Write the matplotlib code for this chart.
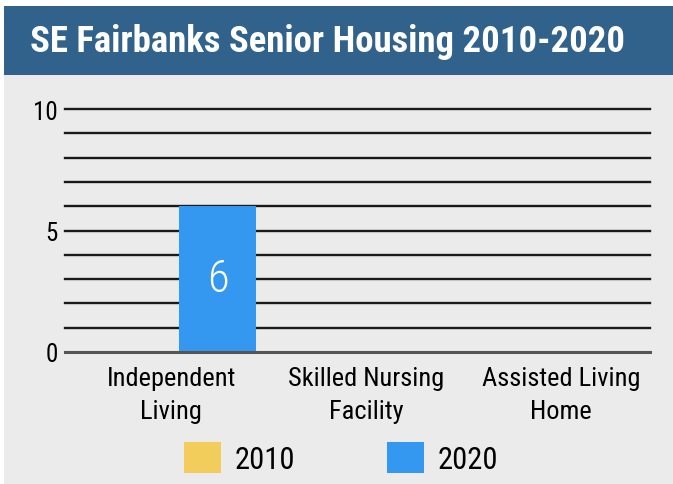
import matplotlib
matplotlib.use("Agg")
import matplotlib.pyplot as plt
from matplotlib.patches import Rectangle
from matplotlib import font_manager
import numpy as np

categories = ["Independent\nLiving", "Skilled Nursing\nFacility", "Assisted Living\nHome"]
series_names = ["2010", "2020"]
values_2010 = [0, 0, 0]
values_2020 = [6, 0, 0]
yticks = [0, 5, 10]
title = "SE Fairbanks Senior Housing 2010-2020"

colors = {"2010": "#F2CD5C", "2020": "#3498F1"}
avail = {f.name for f in font_manager.fontManager.ttflist}
cands = ["Roboto Condensed", "Open Sans Condensed", "Liberation Sans Narrow", "Roboto"]
first = next((c for c in cands if c in avail), "DejaVu Sans")
FONT = [first, "DejaVu Sans"]
plt.rcParams["font.family"] = FONT

W, H = 673, 485
fig = plt.figure(figsize=(W / 100, H / 100), dpi=100)
fig.patch.set_facecolor("white")

def fx(px):
    return px / W

def fy(py):
    return 1 - py / H

# panel background
fig.patches.append(Rectangle((fx(4), 0), fx(669), fy(76), transform=fig.transFigure,
                             facecolor="#EBEBEB", edgecolor="none", zorder=-2))
# title banner
fig.patches.append(Rectangle((fx(4), fy(76)), fx(669), (76 - 7) / H, transform=fig.transFigure,
                             facecolor="#31628C", edgecolor="none", zorder=-2))
tt = fig.text(fx(328), fy(42), title, color="white", fontsize=28, fontweight="semibold",
              ha="center", va="center")

# axes
y0_px, y10_px = 353, 110
pad = 0.06
ppu = (y0_px - y10_px) / 10.0
ax = fig.add_axes([fx(65), fy(y0_px + pad * ppu), fx(585), (y0_px - y10_px + 2 * pad * ppu) / H])
ax.set_facecolor("none")
ax.set_ylim(-pad, 10 + pad)

x = np.arange(len(categories))
bw = 0.395
off = 0.238
b1 = ax.bar(x - off, values_2010, bw, color=colors["2010"], label="2010", zorder=3)
b2 = ax.bar(x + off, values_2020, bw, color=colors["2020"], label="2020", zorder=3)
for rect, v in zip(b2, values_2020):
    if v > 0:
        ax.text(rect.get_x() + rect.get_width() / 2, v / 2, str(v), color="white",
                fontsize=32, fontweight="light", ha="center", va="center", zorder=4)

ax.set_xlim(-0.544, 2.456)
ax.set_xticks(x)
ax.set_xticklabels(categories, fontsize=19, linespacing=1.5)
ax.set_yticks(yticks)
ax.set_yticklabels([str(t) for t in yticks], fontsize=18)
ax.tick_params(axis="both", length=0)
ax.tick_params(axis="y", pad=5)
ax.tick_params(axis="x", pad=9)

for yv in range(1, 11):
    ax.axhline(yv, color="#1A1A1A", linewidth=1.7, zorder=1, clip_on=False)
ax.axhline(0, color="#555555", linewidth=2.2, zorder=5, clip_on=False)
for s in ax.spines.values():
    s.set_visible(False)

fig.legend(handles=[b1, b2], labels=series_names, loc="center",
           bbox_to_anchor=(fx(341), fy(459)), ncol=2, frameon=False, fontsize=22,
           handlelength=1.2, handleheight=1.2, handletextpad=0.45, columnspacing=3.0,
           borderaxespad=0)

# fit title width to reference (~596 px)
fig.canvas.draw()
bb = tt.get_window_extent()
if bb.width > 600:
    tt.set_fontsize(tt.get_fontsize() * 596 / bb.width)

fig.savefig("out.png", dpi=100, facecolor="white")
